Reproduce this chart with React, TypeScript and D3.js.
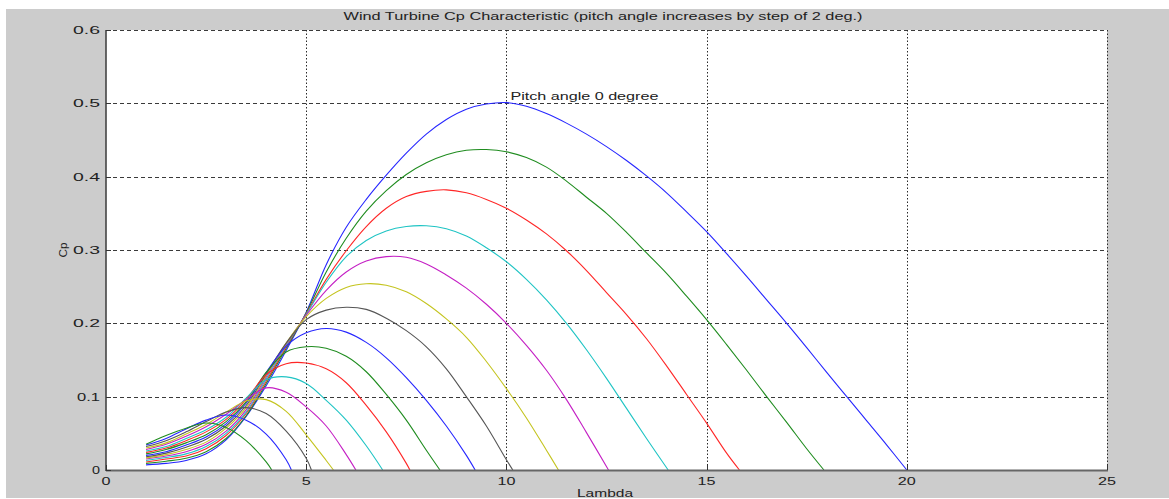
import React, { useEffect, useRef } from "react";
import * as d3 from "d3";

// tip speed ratio grid that every curve is sampled on
const lambdaGrid = [
  1, 1.5, 2, 2.5, 3, 3.5, 4, 4.5, 5, 5.5, 6, 6.5, 7, 7.5, 8, 8.5, 9, 9.5, 10,
  10.5, 11, 11.5, 12, 12.5, 13, 13.5, 14, 14.5, 15, 15.5, 16, 16.5, 17, 17.5,
  18, 18.5, 19, 19.5,
];

const pitchAngles = [0, 2, 4, 6, 8, 10, 12, 14, 16, 18, 20, 22, 24, 26, 28, 30];

// lambda where each curve reaches Cp = 0
const zeroCrossings = [
  20, 17.93, 15.82, 14.04, 12.55, 11.3, 10.16, 9.22, 8.34, 7.59, 6.91, 6.24,
  5.68, 5.13, 4.63, 4.14,
];

const cpPitch0 = [
  0.007, 0.009, 0.013, 0.022, 0.041, 0.073, 0.115, 0.163, 0.215, 0.28, 0.331,
  0.369, 0.402, 0.432, 0.458, 0.478, 0.492, 0.499, 0.501, 0.496, 0.486, 0.473,
  0.458, 0.441, 0.422, 0.401, 0.378, 0.352, 0.325, 0.295, 0.264, 0.232, 0.2,
  0.167, 0.133, 0.1, 0.067, 0.034,
];
const cpPitch2 = [
  0.009, 0.012, 0.016, 0.025, 0.043, 0.074, 0.118, 0.166, 0.214, 0.27, 0.316,
  0.353, 0.381, 0.403, 0.419, 0.43, 0.436, 0.437, 0.434, 0.426, 0.413, 0.394,
  0.372, 0.35, 0.324, 0.296, 0.268, 0.237, 0.205, 0.171, 0.136, 0.1, 0.065,
  0.029,
];
const cpPitch4 = [
  0.011, 0.015, 0.019, 0.029, 0.047, 0.077, 0.121, 0.168, 0.213, 0.26, 0.299,
  0.332, 0.357, 0.373, 0.38, 0.382, 0.378, 0.369, 0.357, 0.341, 0.322, 0.299,
  0.272, 0.242, 0.212, 0.179, 0.142, 0.103, 0.064, 0.023,
];
const cpPitch6 = [
  0.013, 0.017, 0.022, 0.032, 0.05, 0.079, 0.124, 0.17, 0.212, 0.256, 0.291,
  0.313, 0.326, 0.332, 0.333, 0.329, 0.319, 0.303, 0.284, 0.26, 0.232, 0.2,
  0.164, 0.125, 0.084, 0.043,
];
const cpPitch8 = [
  0.015, 0.019, 0.025, 0.035, 0.053, 0.082, 0.127, 0.172, 0.211, 0.245, 0.27,
  0.285, 0.291, 0.29, 0.281, 0.266, 0.248, 0.226, 0.2, 0.17, 0.136, 0.096,
  0.051,
];
const cpPitch10 = [
  0.0165, 0.021, 0.028, 0.038, 0.057, 0.085, 0.129, 0.173, 0.209, 0.234, 0.249,
  0.254, 0.252, 0.243, 0.227, 0.206, 0.181, 0.148, 0.111, 0.071, 0.027,
];
const cpPitch12 = [
  0.018, 0.023, 0.031, 0.042, 0.06, 0.088, 0.131, 0.173, 0.205, 0.218, 0.222,
  0.219, 0.207, 0.19, 0.168, 0.138, 0.1, 0.06, 0.014,
];
const cpPitch14 = [
  0.02, 0.025, 0.034, 0.045, 0.063, 0.091, 0.133, 0.169, 0.187, 0.193, 0.188,
  0.174, 0.153, 0.126, 0.095, 0.06, 0.02,
];
const cpPitch16 = [
  0.022, 0.028, 0.037, 0.048, 0.066, 0.093, 0.133, 0.161, 0.168, 0.166, 0.155,
  0.134, 0.103, 0.068, 0.027,
];
const cpPitch18 = [
  0.024, 0.03, 0.04, 0.052, 0.069, 0.096, 0.13, 0.145, 0.146, 0.138, 0.119,
  0.088, 0.052, 0.009,
];
const cpPitch20 = [
  0.026, 0.032, 0.043, 0.055, 0.072, 0.098, 0.123, 0.127, 0.118, 0.095, 0.068,
  0.033,
];
const cpPitch22 = [
  0.028, 0.035, 0.046, 0.059, 0.076, 0.096, 0.112, 0.106, 0.086, 0.06, 0.021,
];
const cpPitch24 = [
  0.03, 0.037, 0.049, 0.062, 0.079, 0.094, 0.096, 0.08, 0.048, 0.013,
];
const cpPitch26 = [0.032, 0.04, 0.052, 0.066, 0.079, 0.085, 0.077, 0.053, 0.016];
const cpPitch28 = [0.034, 0.043, 0.056, 0.068, 0.075, 0.068, 0.049, 0.014];
const cpPitch30 = [0.035, 0.047, 0.057, 0.064, 0.058, 0.04, 0.011];

const cpCurves = [
  cpPitch0, cpPitch2, cpPitch4, cpPitch6, cpPitch8, cpPitch10, cpPitch12,
  cpPitch14, cpPitch16, cpPitch18, cpPitch20, cpPitch22, cpPitch24, cpPitch26,
  cpPitch28, cpPitch30,
];

const xTicks = [0, 5, 10, 15, 20, 25];
const yTicks = [0, 0.1, 0.2, 0.3, 0.4, 0.5, 0.6];
const yTickLabels = ["0", "0.1", "0.2", "0.3", "0.4", "0.5", "0.6"];

// matlab's colour order, cycling
const colorOrder = ["#2626ff", "#1f8c1f", "#ff2626", "#1fc4c4", "#c41fc4", "#c4c41f", "#555555"];

const FONT = "'Liberation Sans', Arial, sans-serif";

const App = () => {
  const svgRef = useRef<SVGSVGElement>(null);

  useEffect(() => {
    const W = 1169;
    const H = 499;
    const plot = { left: 106, right: 1107, top: 30, bottom: 470 };

    const svg = d3.select(svgRef.current).attr("width", W).attr("height", H);
    svg.selectAll("*").remove();

    svg.append("rect").attr("width", W).attr("height", H).attr("fill", "#fff");
    svg.append("rect")
      .attr("x", 6).attr("y", 9)
      .attr("width", W - 6).attr("height", 489)
      .attr("fill", "#cccccc");

    const x = d3.scaleLinear().domain([0, 25]).range([plot.left, plot.right]);
    const y = d3.scaleLinear().domain([0, 0.6]).range([plot.bottom, plot.top]);

    svg.append("rect")
      .attr("x", plot.left).attr("y", plot.top)
      .attr("width", plot.right - plot.left)
      .attr("height", plot.bottom - plot.top)
      .attr("fill", "#fff");

    // grid
    svg.append("g")
      .selectAll("line")
      .data(yTicks.filter((t) => t > 0))
      .join("line")
      .attr("x1", plot.left).attr("x2", plot.right)
      .attr("y1", (d) => Math.round(y(d)) + 0.5)
      .attr("y2", (d) => Math.round(y(d)) + 0.5)
      .attr("stroke", "#3a3a3a")
      .attr("stroke-dasharray", "4,3");

    svg.append("g")
      .selectAll("line")
      .data(xTicks.filter((t) => t > 0))
      .join("line")
      .attr("x1", (d) => Math.round(x(d)) + 0.5)
      .attr("x2", (d) => Math.round(x(d)) + 0.5)
      .attr("y1", plot.top).attr("y2", plot.bottom)
      .attr("stroke", "#2a2a2a")
      .attr("stroke-dasharray", "1.5,2");

    // curves
    const series = pitchAngles.map((beta, i) => ({
      beta,
      pts: [
        ...cpCurves[i].map((v, j) => [lambdaGrid[j], v] as [number, number]),
        [zeroCrossings[i], 0] as [number, number],
      ],
    }));

    const line = d3.line<[number, number]>()
      .x((d) => x(d[0]))
      .y((d) => y(d[1]))
      .curve(d3.curveCatmullRom.alpha(0.5));

    svg.append("g")
      .selectAll("path")
      .data(series)
      .join("path")
      .attr("d", (d) => line(d.pts))
      .attr("fill", "none")
      .attr("stroke", (d, i) => colorOrder[i % colorOrder.length])
      .attr("stroke-width", 1.1);

    // axis lines
    svg.append("line")
      .attr("x1", plot.left).attr("x2", plot.left)
      .attr("y1", plot.top).attr("y2", plot.bottom + 1)
      .attr("stroke", "#444").attr("stroke-width", 1.6);
    svg.append("line")
      .attr("x1", plot.left).attr("x2", plot.right + 1)
      .attr("y1", plot.bottom + 0.5).attr("y2", plot.bottom + 0.5)
      .attr("stroke", "#666").attr("stroke-width", 2);

    // tick marks
    svg.append("g")
      .selectAll("line")
      .data(xTicks)
      .join("line")
      .attr("x1", (d) => Math.round(x(d)) + 0.5)
      .attr("x2", (d) => Math.round(x(d)) + 0.5)
      .attr("y1", plot.bottom).attr("y2", plot.bottom - 5)
      .attr("stroke", "#333");
    svg.append("g")
      .selectAll("line")
      .data(yTicks)
      .join("line")
      .attr("x1", plot.left).attr("x2", plot.left + 5)
      .attr("y1", (d) => Math.round(y(d)) + 0.5)
      .attr("y2", (d) => Math.round(y(d)) + 0.5)
      .attr("stroke", "#333");

    // tick labels (matlab text is drawn wide, so stretch it)
    svg.append("g")
      .selectAll("text")
      .data(yTicks)
      .join("text")
      .attr("x", 100)
      .attr("y", (d) => y(d) + 4)
      .attr("text-anchor", "end")
      .attr("font-family", FONT)
      .attr("font-size", 11)
      .attr("fill", "#222")
      .attr("textLength", (d, i) => (i === 0 ? 8 : d === 0.1 ? 23 : 27))
      .attr("lengthAdjust", "spacingAndGlyphs")
      .text((d, i) => yTickLabels[i]);

    svg.append("g")
      .selectAll("text")
      .data(xTicks)
      .join("text")
      .attr("x", (d) => x(d))
      .attr("y", 485)
      .attr("text-anchor", "middle")
      .attr("font-family", FONT)
      .attr("font-size", 11)
      .attr("fill", "#222")
      .attr("textLength", (d) => (d < 10 ? 9 : 18))
      .attr("lengthAdjust", "spacingAndGlyphs")
      .text((d) => String(d));

    // titles
    svg.append("text")
      .attr("x", 603).attr("y", 20)
      .attr("text-anchor", "middle")
      .attr("font-family", FONT).attr("font-size", 11.5).attr("fill", "#222")
      .attr("textLength", 519).attr("lengthAdjust", "spacingAndGlyphs")
      .text("Wind Turbine Cp Characteristic (pitch angle increases by step of 2 deg.)");

    svg.append("text")
      .attr("x", 605).attr("y", 497)
      .attr("text-anchor", "middle")
      .attr("font-family", FONT).attr("font-size", 11.5).attr("fill", "#222")
      .attr("textLength", 56).attr("lengthAdjust", "spacingAndGlyphs")
      .text("Lambda");

    svg.append("text")
      .attr("transform", "translate(67,250) rotate(-90)")
      .attr("text-anchor", "middle")
      .attr("font-family", FONT).attr("font-size", 11.5).attr("fill", "#222")
      .attr("textLength", 15).attr("lengthAdjust", "spacingAndGlyphs")
      .text("Cp");

    svg.append("text")
      .attr("x", x(10.1)).attr("y", 99.5)
      .attr("font-family", FONT).attr("font-size", 11.5).attr("fill", "#222")
      .attr("textLength", 148).attr("lengthAdjust", "spacingAndGlyphs")
      .text("Pitch angle 0 degree");
  }, []);

  return (
    <svg
      ref={svgRef}
      style={{ position: "absolute", left: 0, top: 0, display: "block" }}
    ></svg>
  );
};

export default App;
